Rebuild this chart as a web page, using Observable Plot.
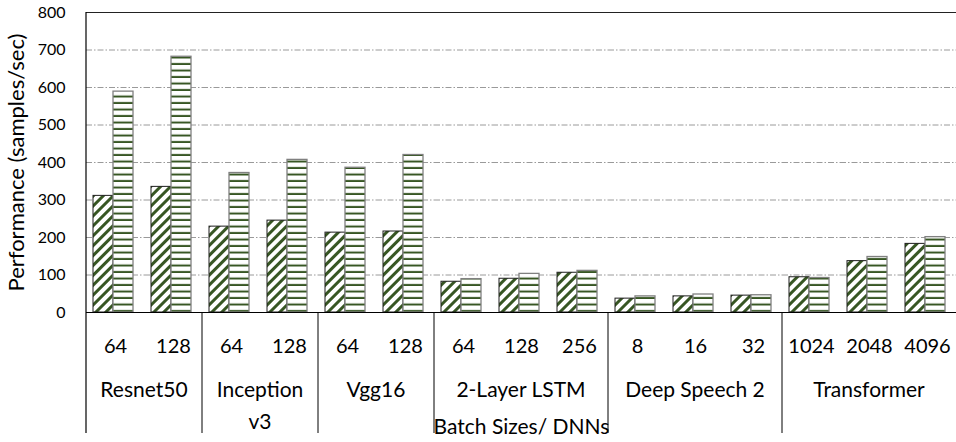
<!DOCTYPE html>
<html><head><meta charset="utf-8">
<script src="https://cdn.jsdelivr.net/npm/d3@7"></script>
<script src="https://cdn.jsdelivr.net/npm/@observablehq/plot@0.6"></script>
<style>body{margin:0;background:#fff;font-family:Lato,sans-serif}</style>
</head><body><div id="chart"></div>
<script>
const groups = ["Resnet50", "Inception v3", "Vgg16", "2-Layer LSTM", "Deep Speech 2", "Transformer"];
const batchSizes = [[64, 128], [64, 128], [64, 128], [64, 128, 256], [8, 16, 32], [1024, 2048, 4096]];
const seriesNames = ["A", "B"];
const hatchedValues = [311, 335, 229, 245, 213, 216, 82, 90, 106, 37, 43, 45, 94, 137, 183];
const stripedValues = [589, 682, 372, 407, 386, 420, 89, 103, 111, 43, 48, 46, 92, 148, 201];
const yTicks = [0, 100, 200, 300, 400, 500, 600, 700, 800];
const yTitle = "Performance (samples/sec)";
const xTitle = "Batch Sizes/ DNNs";

const rows = [];
const keys = [];
const batchOf = {};
let k = 0;
groups.forEach((g, gi) => batchSizes[gi].forEach(b => {
  const key = g + "|" + b;
  keys.push(key); batchOf[key] = String(b);
  rows.push({key, group: g, series: "A", value: hatchedValues[k]});
  rows.push({key, group: g, series: "B", value: stripedValues[k]});
  k++;
}));

const green = "#375623";
const plot = Plot.plot({
  width: 956, height: 442,
  marginLeft: 86, marginRight: 0, marginTop: 12, marginBottom: 130,
  style: {fontFamily: "Lato, sans-serif", fontSize: "20px", background: "#fff", color: "#000"},
  fx: {domain: keys, padding: 0},
  x: {domain: seriesNames, paddingInner: 0, paddingOuter: 0.415, align: 0.41, axis: null},
  y: {domain: [0, 800]},
  marks: [
    Plot.ruleY(yTicks.filter(v => v > 0 && v < 800), {stroke: "#9a9a9a", strokeWidth: 1, strokeDasharray: "6,2,1.5,2"}),
    Plot.barY(rows.filter(d => d.series === "A"), {fx: "key", x: "series", y: "value", fill: "url(#hatchPat)", stroke: "#1e1e1e", strokeWidth: 1}),
    Plot.barY(rows.filter(d => d.series === "B"), {fx: "key", x: "series", y: "value", fill: "url(#stripePat)", stroke: "#808080", strokeWidth: 1.3}),
    Plot.ruleY([0], {stroke: "#000", strokeWidth: 1.2}),
    Plot.ruleY([800], {stroke: "#222", strokeWidth: 1.2}),
    Plot.axisY({ticks: yTicks, tickSize: 0, tickPadding: 21, fontSize: 16, label: yTitle, labelArrow: "none", labelAnchor: "center", labelOffset: 78}),
    Plot.axisFx({anchor: "bottom", tickSize: 0, tickPadding: 26, fontSize: 20, tickFormat: d => batchOf[d], label: xTitle, labelArrow: "none", labelAnchor: "center", labelOffset: 121})
  ]
});

const svg = d3.select(plot);
// axis titles at the reference's size
svg.selectAll("text").filter(function() { return this.textContent === yTitle || this.textContent === xTitle; })
  .each(function() {
    const size = this.textContent === yTitle ? 22 : 21;
    d3.select(this).attr("font-size", size).style("font-size", size + "px");
    d3.select(this.parentNode).attr("font-size", size);
  });

const defs = svg.insert("defs", ":first-child");
const p1 = defs.append("pattern").attr("id", "hatchPat").attr("patternUnits", "userSpaceOnUse")
  .attr("width", 7).attr("height", 7).attr("patternTransform", "rotate(45)");
p1.append("rect").attr("width", 7).attr("height", 7).attr("fill", "#fff");
p1.append("rect").attr("width", 3).attr("height", 7).attr("fill", green);
const p2 = defs.append("pattern").attr("id", "stripePat").attr("patternUnits", "userSpaceOnUse")
  .attr("width", 10).attr("height", 6.5);
p2.append("rect").attr("width", 10).attr("height", 6.5).attr("fill", "#fff");
p2.append("rect").attr("y", 4.5).attr("width", 10).attr("height", 2).attr("fill", green);

// category table: separators and group names, positioned with Plot's fx / y scales
const fx = plot.scale("fx");
const ys = plot.scale("y");
const bw = fx.bandwidth;
const y0 = ys.apply(0), yTop = ys.apply(800);
const tableBottom = 433;
const g = svg.append("g").attr("font-family", "Lato, sans-serif").attr("font-size", 21).attr("text-anchor", "middle");
g.append("line").attr("x1", fx.apply(keys[0])).attr("x2", fx.apply(keys[0]))
  .attr("y1", yTop).attr("y2", tableBottom).attr("stroke", "#000").attr("stroke-width", 1.2);
let idx = 0;
groups.forEach((name, gi) => {
  const first = keys[idx], last = keys[idx + batchSizes[gi].length - 1];
  idx += batchSizes[gi].length;
  const xl = fx.apply(first), xr = fx.apply(last) + bw;
  if (gi > 0) g.append("line").attr("x1", xl).attr("x2", xl).attr("y1", y0).attr("y2", tableBottom)
    .attr("stroke", "#000").attr("stroke-width", 1);
  const words = name === "Inception v3" ? ["Inception", "v3"] : [name];
  words.forEach((w, wi) => g.append("text").attr("x", (xl + xr) / 2).attr("y", y0 + 78 + wi * 32)
    .attr("dy", "0.35em").text(w));
});

document.getElementById("chart").append(plot);
</script></body></html>
